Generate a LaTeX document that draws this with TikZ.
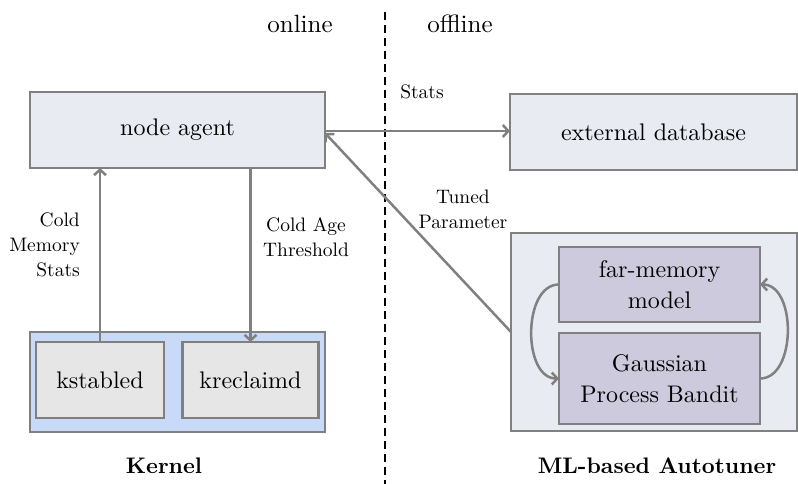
\documentclass[tikz,border=0pt]{standalone}
\usepackage{fontspec}
\setmainfont{lmroman10-regular.otf}[BoldFont=lmroman10-bold.otf]
\usetikzlibrary{arrows.meta}
\definecolor{lnc}{HTML}{808080}
\definecolor{agentfill}{HTML}{E8EBF1}
\definecolor{kernfill}{HTML}{C9DAF8}
\definecolor{kboxfill}{HTML}{E6E6E6}
\definecolor{mlboxfill}{HTML}{CCCADC}
\tikzset{
  box/.style={draw=lnc, line width=2.5pt, inner sep=0pt, outer sep=0pt, align=center,
    font=\fontsize{24}{31}\selectfont},
  arr/.style={draw=lnc, line width=2.5pt, -{Straight Barb[length=5.5pt,width=12pt]}},
  smalltxt/.style={font=\fontsize{19.5}{25}\selectfont, inner sep=0pt},
  bigtxt/.style={font=\fontsize{25}{31}\selectfont, inner sep=0pt},
  boldtxt/.style={font=\fontsize{22.5}{31}\selectfont\bfseries, inner sep=0pt},
  divider/.style={draw=black, line width=2pt, dash pattern=on 8pt off 5pt}
}
\begin{document}
\begin{tikzpicture}[x=1pt, y=-1pt]
\useasboundingbox (0,0) rectangle (798,484);

% divider
\coordinate (dtop) at (385,12);
\coordinate (dbot) at (385,484);
\draw[divider] (dtop) -- (dbot);
\node[bigtxt] (online) at (300,24) {online};
\node[bigtxt] (offline) at (460,24) {offline};

% boxes
\node[box, fill=agentfill, minimum width=295, minimum height=76] (agent) at (177.5,130) {node agent};
\node[box, fill=agentfill, minimum width=287, minimum height=76] (db) at (653.5,132) {external database};

\node[box, fill=kernfill, minimum width=295, minimum height=100] (kernel) at (177.5,382) {};
\node[box, fill=kboxfill, minimum width=128, minimum height=76] (kst) at (100,380) {kstabled};
\node[box, fill=kboxfill, minimum width=136, minimum height=76] (kre) at (250.5,380) {kreclaimd};

\node[box, fill=agentfill, minimum width=286, minimum height=198] (auto) at (654,332) {};
\node[box, fill=mlboxfill, minimum width=201, minimum height=75] (fm) at (659.5,284.5) {far-memory\\model};
\node[box, fill=mlboxfill, minimum width=201, minimum height=91] (gpb) at (659.5,378.5) {Gaussian\\Process Bandit};

% labels
\node[boldtxt] (klabel) at (164,466) {Kernel};
\node[boldtxt] (mllabel) at (657,466) {ML-based Autotuner};
\node[smalltxt, align=right, anchor=east] (cms) at (80,245) {Cold\\Memory\\Stats};
\node[smalltxt, align=center] (cat) at (306,237) {Cold Age\\Threshold};
\node[smalltxt] (stats) at (422,92) {Stats};
\node[smalltxt, align=center] (tuned) at (463,209) {Tuned\\Parameter};

% connectors
\draw[arr] (kst.north) -- (kst.north |- agent.south);
\draw[arr] (agent.south -| kre.north) -- (kre.north);
\draw[arr] ([yshift=-1pt]agent.east) -- ([yshift=-1pt]agent.east -| db.west);
\draw[arr] (auto.west) -- ([yshift=-3pt]agent.east);
\draw[arr] (fm.west) to[out=180, in=180, looseness=1] (gpb.west);
\draw[arr] (gpb.east) to[out=0, in=0, looseness=1] (fm.east);
\end{tikzpicture}
\end{document}
